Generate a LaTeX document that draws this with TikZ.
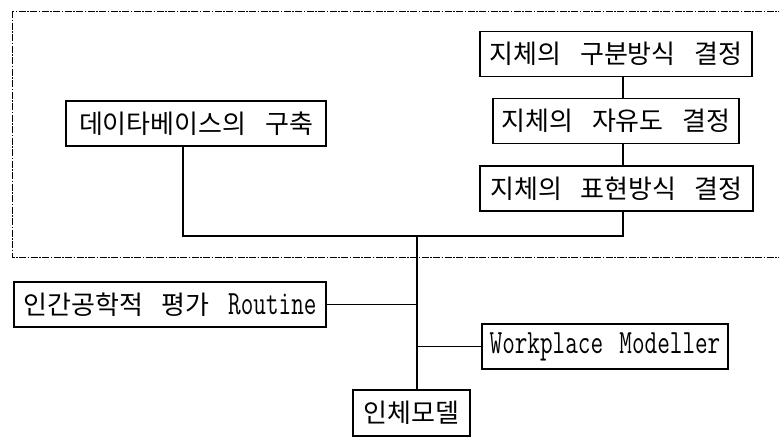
\documentclass[tikz,border=0pt]{standalone}
\usepackage{fontspec}
\setmainfont{Noto Sans CJK KR}[WordSpace=3.2]
\newfontfamily\latfont{Latin Modern Mono}[FakeStretch=0.72, WordSpace=1.3]
\begin{document}
\begin{tikzpicture}[x=1pt,y=-1pt,
  box/.style={draw, line width=1.4pt, inner sep=0pt, minimum height=45pt,
    font=\fontsize{26}{30}\selectfont},
  conn/.style={line width=1.4pt},
  frame/.style={line width=0.7pt, dash pattern=on 7pt off 1.5pt on 1.5pt off 1.5pt}]
\useasboundingbox (0,0) rectangle (779,437);
\draw[frame] (12,11) rectangle (785,257);
\node[box, minimum width=260pt] (db) at (196,123.5) {데이타베이스의 구축};
\node[box, minimum width=272pt] (b1) at (616,54) {지체의 구분방식 결정};
\node[box, minimum width=246pt] (b2) at (616,121) {지체의 자유도 결정};
\node[box, minimum width=273pt] (b3) at (616.5,188.5) {지체의 표현방식 결정};
\node[box, minimum width=312pt] (rt) at (170,304.5) {인간공학적 평가 {\latfont\fontsize{34}{36}\selectfont Routine}};
\node[box, minimum width=246pt] (wp) at (605,346.5) {\latfont\fontsize{34}{36}\selectfont Workplace Modeller};
\node[box, minimum width=117pt, minimum height=46pt, line width=2.2pt] (hm) at (411.5,413) {인체모델};
\coordinate (busL) at (183,236);
\coordinate (busR) at (623,236);
\coordinate (busM) at (417,236);
\draw[conn] (b1.south -| busR) -- (b2.north -| busR);
\draw[conn] (b2.south -| busR) -- (b3.north -| busR);
\draw[conn] (db.south -| busL) -- (busL) -- (busR) -- (b3.south -| busR);
\draw[conn] (busM) -- (hm.north -| busM);
\draw[conn] (rt.east) -- (rt.east -| busM);
\draw[conn] (wp.west -| busM) -- (wp.west);
\end{tikzpicture}
\end{document}
